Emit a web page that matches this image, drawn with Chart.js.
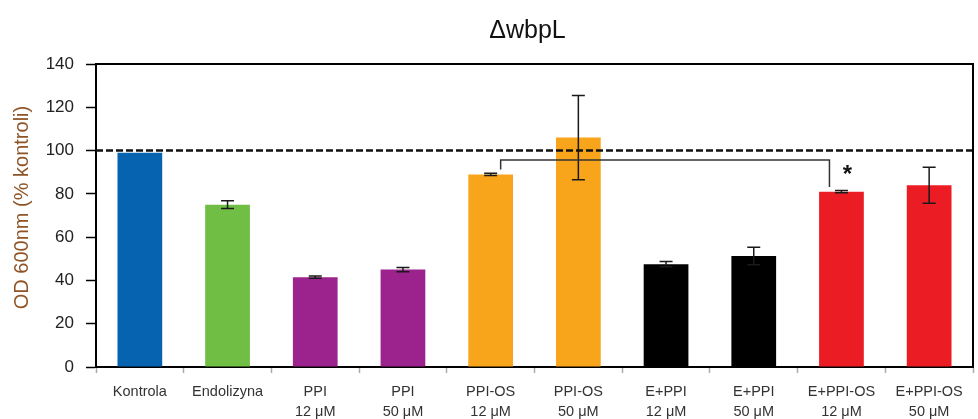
<!DOCTYPE html>
<html>
<head>
<meta charset="utf-8">
<script src="https://cdn.jsdelivr.net/npm/chart.js@4/dist/chart.umd.min.js"></script>
<style>
  html, body { margin: 0; padding: 0; background: #fff; }
  #wrap { width: 978px; height: 419px; }
</style>
</head>
<body>
<div id="wrap"><canvas id="c" width="978" height="419"></canvas></div>
<script>
// Growth of the ΔwbpL strain, OD600 as % of control
const chartTitle = 'ΔwbpL';
const yTitle = 'OD 600nm (% kontroli)';
const categories = [
  ['Kontrola'], ['Endolizyna'],
  ['PPI', '12 μM'], ['PPI', '50 μM'],
  ['PPI-OS', '12 μM'], ['PPI-OS', '50 μM'],
  ['E+PPI', '12 μM'], ['E+PPI', '50 μM'],
  ['E+PPI-OS', '12 μM'], ['E+PPI-OS', '50 μM']
];
const means  = [99, 75, 41.5, 45, 89, 106, 47.5, 51.3, 81, 84];
const errors = [0, 1.8, 0.5, 1, 0.5, 19.5, 1.2, 4, 0.5, 8.3];
const barColors = ['#0563B0', '#70BF44', '#9C238E', '#9C238E', '#F8A51B', '#F8A51B',
                   '#000000', '#000000', '#EC1C24', '#EC1C24'];
const yTicks = [0, 20, 40, 60, 80, 100, 120, 140];
const referenceLevel = 100;
// significance bracket: compared groups, bracket height and leg ends
const bracketGroups = [4, 8];
const bracketLevel = 95.7;
const bracketLegEnds = [91.3, 83.2];
const significanceMark = '*';

const FONT = "'Liberation Sans', Arial, sans-serif";

const overlay = {
  id: 'overlay',
  afterDatasetsDraw(chart) {
    const { ctx, chartArea: a, scales: { x, y } } = chart;
    ctx.save();

    // error bars
    ctx.strokeStyle = '#1a1a1a';
    ctx.lineWidth = 1.5;
    means.forEach((m, i) => {
      const e = errors[i];
      if (!e) return;
      const cx = x.getPixelForValue(i);
      const yt = y.getPixelForValue(m + e);
      const yb = y.getPixelForValue(m - e);
      ctx.beginPath();
      ctx.moveTo(cx, yt); ctx.lineTo(cx, yb);
      ctx.moveTo(cx - 6.5, yt); ctx.lineTo(cx + 6.5, yt);
      ctx.moveTo(cx - 6.5, yb); ctx.lineTo(cx + 6.5, yb);
      ctx.stroke();
    });

    // 100 % reference line
    const yr = y.getPixelForValue(referenceLevel);
    ctx.strokeStyle = '#111';
    ctx.lineWidth = 2.5;
    ctx.setLineDash([7, 3]);
    ctx.beginPath();
    ctx.moveTo(a.left, yr); ctx.lineTo(a.right, yr);
    ctx.stroke();
    ctx.setLineDash([]);

    // significance bracket
    const x1 = x.getPixelForValue(bracketGroups[0]) + 10;
    const x2 = x.getPixelForValue(bracketGroups[1]) - 12;
    const yb = y.getPixelForValue(bracketLevel);
    ctx.strokeStyle = '#333';
    ctx.lineWidth = 1.5;
    ctx.beginPath();
    ctx.moveTo(x1, y.getPixelForValue(bracketLegEnds[0]));
    ctx.lineTo(x1, yb);
    ctx.lineTo(x2, yb);
    ctx.lineTo(x2, y.getPixelForValue(bracketLegEnds[1]));
    ctx.stroke();

    ctx.fillStyle = '#111';
    ctx.font = "bold 24px " + FONT;
    ctx.textAlign = 'center';
    ctx.textBaseline = 'middle';
    ctx.fillText(significanceMark, x.getPixelForValue(bracketGroups[1]) + 6, y.getPixelForValue(bracketLevel) + 15);

    // frame top and right
    ctx.strokeStyle = '#000';
    ctx.lineWidth = 2;
    ctx.beginPath();
    ctx.moveTo(a.left, a.top); ctx.lineTo(a.right, a.top); ctx.lineTo(a.right, a.bottom);
    ctx.stroke();

    // chart title, centred over the plot
    ctx.fillStyle = '#111';
    ctx.font = "25px " + FONT;
    ctx.textAlign = 'center';
    ctx.textBaseline = 'middle';
    ctx.fillText(chartTitle, (a.left + a.right) / 2 - 7, 31);

    // y axis title
    ctx.translate(22, (a.top + a.bottom) / 2 - 8);
    ctx.rotate(-Math.PI / 2);
    ctx.fillStyle = '#8F5426';
    ctx.font = "20px " + FONT;
    ctx.fillText(yTitle, 0, 0);
    ctx.restore();
  }
};

new Chart(document.getElementById('c'), {
  type: 'bar',
  data: {
    labels: categories,
    datasets: [{
      data: means,
      backgroundColor: barColors,
      borderWidth: 0,
      barPercentage: 0.51,
      categoryPercentage: 1
    }]
  },
  options: {
    responsive: false,
    animation: false,
    devicePixelRatio: 1,
    layout: { padding: { left: 0, right: 5, top: 64, bottom: 0 } },
    plugins: {
      legend: { display: false },
      tooltip: { enabled: false },
      title: { display: false }
    },
    scales: {
      x: {
        offset: true,
        grid: { display: true, drawOnChartArea: false, offset: true, tickLength: 6, tickColor: '#aaa', tickWidth: 1.5 },
        border: { display: true, color: '#000', width: 2 },
        ticks: {
          autoSkip: false, maxRotation: 0, minRotation: 0,
          color: '#333', padding: 9,
          font: { family: FONT, size: 14.5, lineHeight: 1.4 }
        },
        afterFit(s) { s.height = 52; }
      },
      y: {
        min: 0, max: 140,
        afterBuildTicks(s) { s.ticks = yTicks.map(v => ({ value: v })); },
        grid: { display: true, drawOnChartArea: false, tickLength: 10, tickColor: '#000', tickWidth: 1.5 },
        border: { display: true, color: '#000', width: 2 },
        ticks: {
          color: '#222', padding: 12,
          font: { family: FONT, size: 17 }
        },
        afterFit(s) { s.width = 96; }
      }
    }
  },
  plugins: [overlay]
});
</script>
</body>
</html>
